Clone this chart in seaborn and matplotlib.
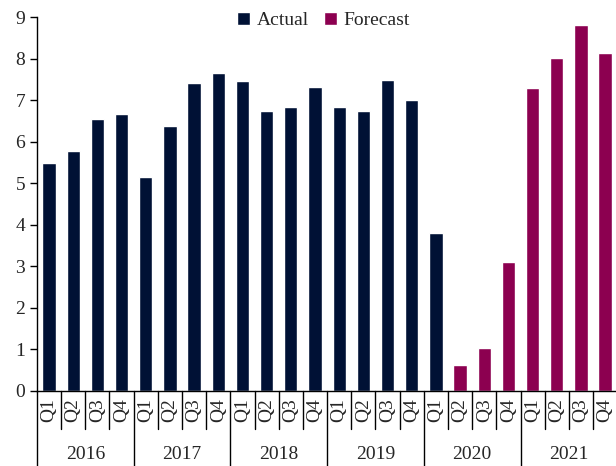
import numpy as np
import pandas as pd
import seaborn as sns
import matplotlib
matplotlib.use('Agg')
import matplotlib.pyplot as plt

years = ['2016', '2017', '2018', '2019', '2020', '2021']
quarters = ['Q1', 'Q2', 'Q3', 'Q4']
values = [5.49, 5.77, 6.55, 6.66,
          5.15, 6.38, 7.40, 7.65,
          7.45, 6.75, 6.84, 7.32,
          6.84, 6.75, 7.49, 7.00,
          3.81, 0.63, 1.04, 3.11,
          7.28, 8.02, 8.80, 8.14]
kind = ['Actual'] * 17 + ['Forecast'] * 7

sns.set_style('ticks')
plt.rcParams['font.family'] = ['Liberation Serif', 'DejaVu Serif']

labels = [y + ' ' + q for y in years for q in quarters]
df = pd.DataFrame({'period': labels, 'value': values, 'kind': kind})

fig = plt.figure(figsize=(6.16, 4.66), dpi=100)
ax = fig.add_axes([0.060, 0.161, 0.942, 0.8025])

sns.barplot(data=df, x='period', y='value', hue='kind', order=labels,
            hue_order=['Actual', 'Forecast'], dodge=False, width=0.55,
            palette={'Actual': '#001135', 'Forecast': '#8C0050'},
            saturation=1, ax=ax)

ax.set_xlim(-0.5, 23.5)
ax.set_ylim(0, 9)
ax.set_yticks(range(10))
ax.set_xlabel('')
ax.set_ylabel('')
ax.set_xticks(range(24))
ax.set_xticklabels(quarters * 6, rotation=90)
ax.tick_params(axis='x', length=0, pad=5, labelsize=14)
ax.tick_params(axis='y', length=5, width=1, labelsize=14, color='black')
for s in ['top', 'right']:
    ax.spines[s].set_visible(False)
for s in ['left', 'bottom']:
    ax.spines[s].set_color('black')
    ax.spines[s].set_linewidth(1)

# quarter and year separators under the axis
trans = ax.get_xaxis_transform()
for i in range(25):
    x = i - 0.5
    if i % 4 == 0:
        ax.plot([x, x], [0, -0.21], color='black', lw=1, transform=trans, clip_on=False)
    else:
        ax.plot([x, x], [0, -0.102], color='black', lw=1, transform=trans, clip_on=False)
for k, y in enumerate(years):
    ax.text(4 * k + 1.5, -0.171, y, transform=trans, ha='center', va='center', fontsize=14)

ax.legend(loc='upper center', bbox_to_anchor=(0.494, 1.035), ncol=2, frameon=False,
          fontsize=14, handlelength=0.65, handleheight=0.65, handletextpad=0.35,
          columnspacing=0.8, borderaxespad=0)

fig.savefig('out.png', dpi=100)
